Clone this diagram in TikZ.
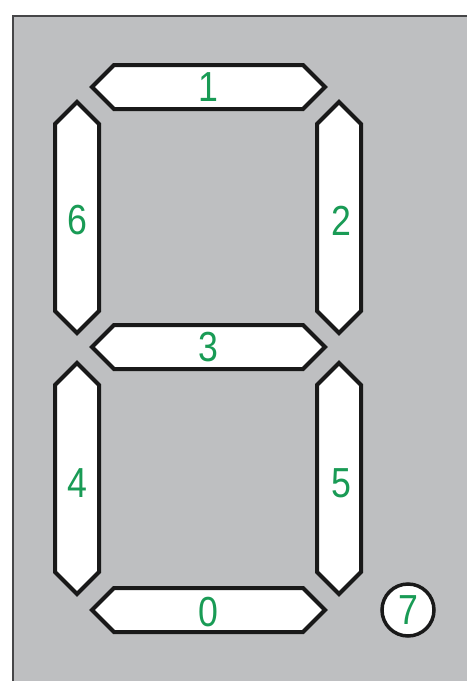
\documentclass[tikz,border=0pt]{standalone}
\usepackage{fontspec}
\newfontfamily\digitfont[FakeStretch=0.85]{Liberation Sans}
\definecolor{panelgray}{RGB}{190,191,193}
\definecolor{framegray}{RGB}{70,70,72}
\definecolor{seggreen}{RGB}{25,155,85}
\definecolor{segline}{RGB}{25,25,25}
\begin{document}
\begin{tikzpicture}[x=1pt,y=-1pt,
  segstyle/.style={draw=segline,fill=white,line width=4pt,line join=miter},
  digit/.style={text=seggreen,font=\digitfont\fontsize{42}{42}\selectfont,inner sep=0pt,anchor=center}]
\useasboundingbox (0,0) rectangle (467,681);
\fill[white] (0,0) rectangle (467,681);
\fill[panelgray] (13,16) rectangle (467,681);
\draw[framegray,line width=2.5pt] (13,681) -- (13,16) -- (467,16);
% horizontal segments: tips x=92..325, half thickness 22
\def\hw{22}
\foreach \name/\yc in {s1/87,s3/347,s0/610}{
  \draw[segstyle] (92,\yc) -- (92+\hw,\yc-\hw) -- (325-\hw,\yc-\hw) -- (325,\yc) -- (325-\hw,\yc+\hw) -- (92+\hw,\yc+\hw) -- cycle;
}
% vertical segments
\foreach \name/\xc/\ya/\yb in {s6/77/102/333,s2/339/102/333,s4/77/363/594,s5/339/363/594}{
  \draw[segstyle] (\xc,\ya) -- (\xc+\hw,\ya+\hw) -- (\xc+\hw,\yb-\hw) -- (\xc,\yb) -- (\xc-\hw,\yb-\hw) -- (\xc-\hw,\ya+\hw) -- cycle;
}
\node[circle,draw=segline,fill=white,line width=3.5pt,minimum size=52pt,inner sep=0pt] (c7) at (408,610) {};
\node[digit] (d1) at (208,87) {1};
\node[digit] (d6) at (77,220) {6};
\node[digit] (d2) at (341,221) {2};
\node[digit] (d3) at (208,347) {3};
\node[digit] (d4) at (77,483) {4};
\node[digit] (d5) at (341,483) {5};
\node[digit] (d0) at (208,612) {0};
\node[digit] (d7) at (c7) {7};
\end{tikzpicture}
\end{document}
